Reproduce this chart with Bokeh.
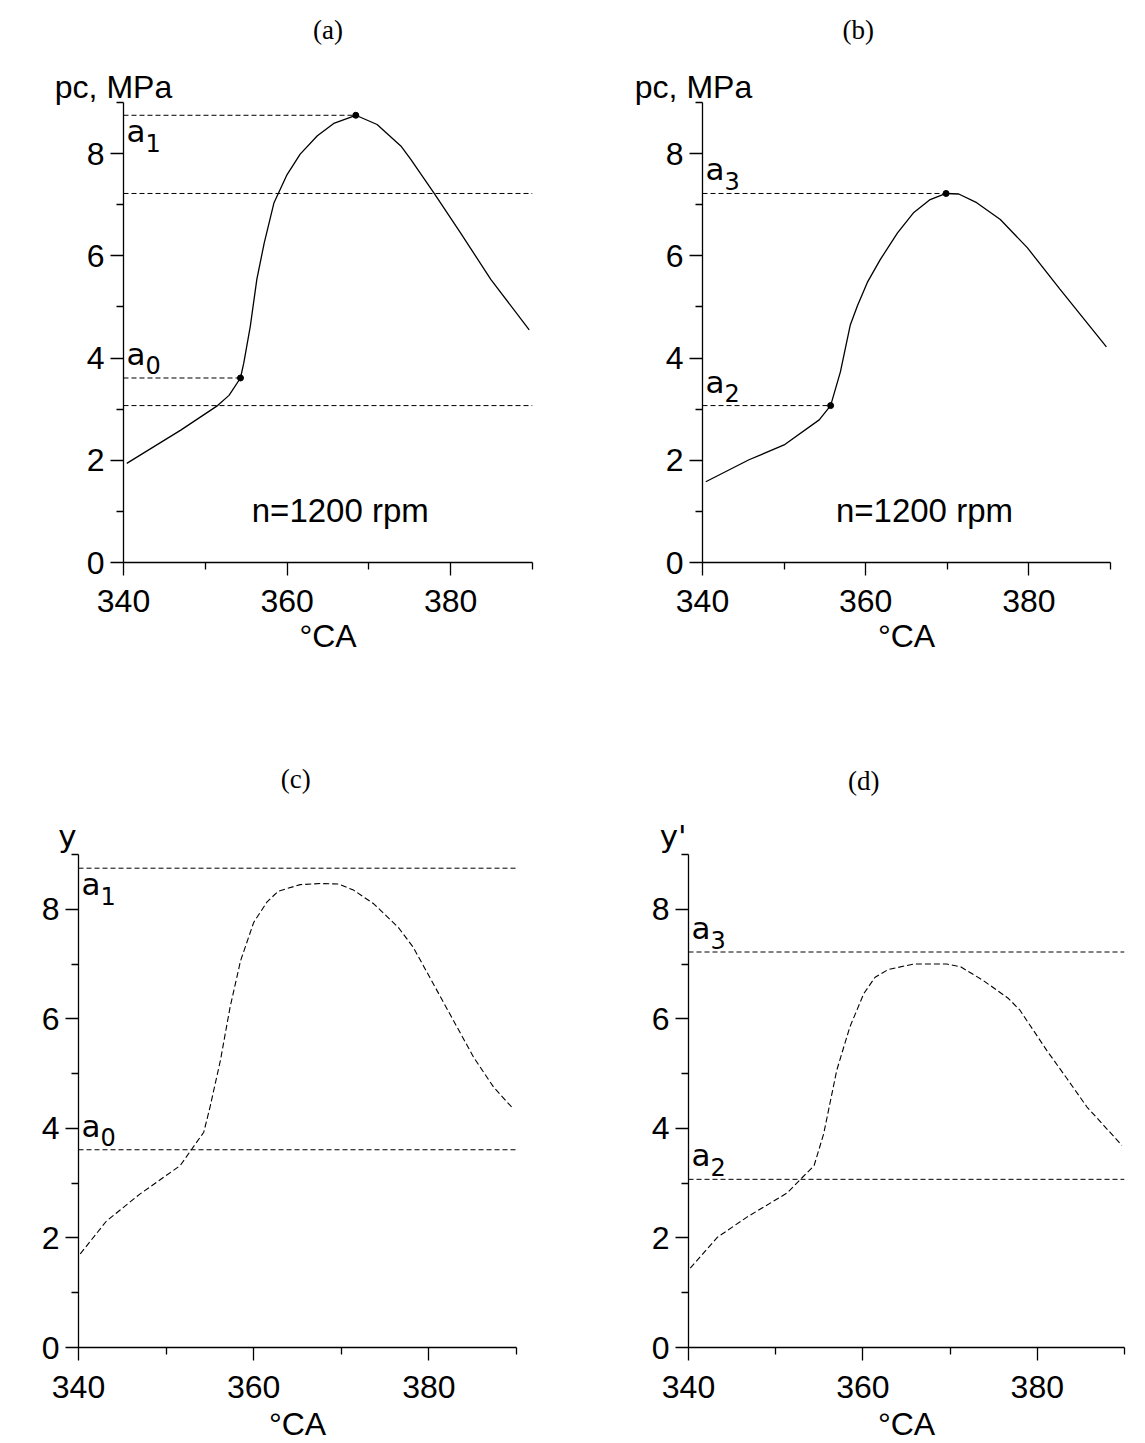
from bokeh.plotting import figure
from bokeh.models import Range1d, FixedTicker, Label
from bokeh.layouts import column, row
from bokeh.embed import file_html
from bokeh.resources import INLINE

# ---------------- data ----------------
x_ticks = [340, 360, 380]
x_minor = [350, 370, 390]
y_ticks = [0, 2, 4, 6, 8]
y_minor = [1, 3, 5, 7, 9]

a0, a1, a2, a3 = 3.61, 8.75, 3.07, 7.22

# (a) pc, MPa
ca_x = [340.4, 347.0, 351.5, 352.9, 354.3, 354.7, 355.5, 356.3, 357.2, 358.4, 360.0,
        361.6, 363.7, 365.7, 368.4, 371.0, 373.9, 375.1, 377.9, 381.2, 384.9, 389.6]
pa_y = [1.94, 2.59, 3.07, 3.27, 3.61, 3.90, 4.62, 5.54, 6.25, 7.04, 7.59,
        7.99, 8.35, 8.59, 8.75, 8.57, 8.15, 7.89, 7.24, 6.45, 5.54, 4.55]
a_points_x = [354.3, 368.4]
a_points_y = [a0, a1]

# (b) pc, MPa
cb_x = [340.4, 345.7, 350.0, 354.3, 355.7, 356.9, 358.1, 359.0, 360.2, 361.8, 363.9,
        365.9, 367.9, 369.85, 371.4, 373.6, 376.5, 379.8, 383.8, 389.5]
pb_y = [1.58, 2.01, 2.30, 2.79, 3.07, 3.73, 4.64, 5.03, 5.48, 5.93, 6.45,
        6.85, 7.10, 7.22, 7.21, 7.04, 6.71, 6.16, 5.35, 4.22]
b_points_x = [355.7, 369.85]
b_points_y = [a2, a3]

# (c) y
cc_x = [340.2, 343.2, 347.0, 351.6, 354.3, 355.0, 356.2, 357.3, 358.5, 360.0, 361.5, 362.8,
        365.3, 367.6, 369.7, 371.4, 373.7, 376.5, 378.2, 380.5, 382.8, 385.1, 387.4, 389.5]
yc_y = [1.71, 2.31, 2.80, 3.32, 3.93, 4.38, 5.24, 6.21, 7.06, 7.76, 8.13, 8.33,
        8.45, 8.47, 8.46, 8.35, 8.10, 7.67, 7.31, 6.64, 5.97, 5.30, 4.75, 4.38]

# (d) y'
cd_x = [340.2, 343.3, 346.7, 351.3, 354.4, 355.5, 357.0, 358.5, 360.1, 361.4, 362.9,
        365.8, 369.6, 371.2, 373.8, 376.7, 378.0, 381.1, 383.4, 385.7, 389.7]
yd_y = [1.45, 2.01, 2.38, 2.82, 3.32, 3.90, 5.06, 5.85, 6.46, 6.76, 6.90,
        7.00, 7.00, 6.95, 6.70, 6.37, 6.16, 5.42, 4.91, 4.39, 3.69]

X0, X1 = 340, 390
Y0, Y1 = 0, 9

SANS = "Liberation Sans"
SANS2 = "DejaVu Sans"
SERIF = "Liberation Serif"


def make_fig(fw, fh, bl, br, bt, bb, tick_standoff, lab_standoff):
    p = figure(frame_width=fw, frame_height=fh,
               x_range=Range1d(X0, X1), y_range=Range1d(Y0, Y1),
               output_backend="svg", toolbar_location=None,
               min_border_left=bl, min_border_right=br,
               min_border_top=bt, min_border_bottom=bb)
    p.outline_line_color = None
    p.grid.visible = False
    p.background_fill_color = "white"
    p.border_fill_color = "white"
    p.xaxis.ticker = FixedTicker(ticks=x_ticks, minor_ticks=x_minor)
    p.yaxis.ticker = FixedTicker(ticks=y_ticks, minor_ticks=y_minor)
    for ax in (p.xaxis[0], p.yaxis[0]):
        ax.axis_line_color = "black"
        ax.axis_line_width = 1.3
        ax.major_tick_line_color = "black"
        ax.major_tick_line_width = 1.3
        ax.major_tick_in = 0
        ax.major_tick_out = 13
        ax.minor_tick_line_color = "black"
        ax.minor_tick_line_width = 1.3
        ax.minor_tick_in = 0
        ax.minor_tick_out = 7
        ax.major_label_text_font = SANS
        ax.major_label_text_font_size = "32px"
        ax.major_label_text_color = "black"
    p.xaxis.major_label_standoff = tick_standoff
    p.yaxis.major_label_standoff = 6
    p.xaxis.axis_label = "°CA"
    p.xaxis.axis_label_text_font = SANS
    p.xaxis.axis_label_text_font_size = "32px"
    p.xaxis.axis_label_text_font_style = "normal"
    p.xaxis.axis_label_text_color = "black"
    p.xaxis.axis_label_standoff = lab_standoff
    return p


def add_text(p, x, y, text, font, size, xo=0, yo=0, align="left",
             baseline="alphabetic", place="center"):
    p.add_layout(Label(x=x, y=y, text=text, x_offset=xo, y_offset=yo,
                       text_font=font, text_font_size=size, text_color="black",
                       text_align=align, text_baseline=baseline), place)


def add_sub_label(p, level, base, sub, above):
    if above:
        add_text(p, X0, level, base, SANS2, "31px", xo=3, yo=24)
        add_text(p, X0, level, sub, SANS2, "24px", xo=22, yo=12.5)
    else:
        add_text(p, X0, level, base, SANS2, "31px", xo=3, yo=-16)
        add_text(p, X0, level, sub, SANS2, "24px", xo=22, yo=-28)


DASH_H = "5 3"
DASH_C = "6 3"

# ---------------- (a) ----------------
pa = make_fig(409, 460, 123, 40, 102, 138, 14, 3)
pa.line(ca_x, pa_y, line_color="black", line_width=1.3)
pa.line([X0, a_points_x[1]], [a1, a1], line_color="black", line_width=1, line_dash=DASH_H)
pa.line([X0, a_points_x[0]], [a0, a0], line_color="black", line_width=1, line_dash=DASH_H)
pa.line([X0, X1], [a3, a3], line_color="black", line_width=1, line_dash=DASH_H)
pa.line([X0, X1], [a2, a2], line_color="black", line_width=1, line_dash=DASH_H)
pa.scatter(a_points_x, a_points_y, size=6, color="black")
add_sub_label(pa, a1, "a", "1", above=False)
add_sub_label(pa, a0, "a", "0", above=True)
add_text(pa, X0, Y1, "pc, MPa", SANS, "32px", xo=-10, yo=16, align="center", place="above")
add_text(pa, 365, Y1, "(a)", SERIF, "27px", yo=73, align="center", baseline="middle", place="above")
add_text(pa, 366.5, 0.83, "n=1200 rpm", SANS, "33px", yo=10, align="center")

# ---------------- (b) ----------------
pb = make_fig(408, 460, 130, 35, 102, 138, 14, 3)
pb.line(cb_x, pb_y, line_color="black", line_width=1.3)
pb.line([X0, b_points_x[1]], [a3, a3], line_color="black", line_width=1, line_dash=DASH_H)
pb.line([X0, b_points_x[0]], [a2, a2], line_color="black", line_width=1, line_dash=DASH_H)
pb.scatter(b_points_x, b_points_y, size=6, color="black")
add_sub_label(pb, a3, "a", "3", above=True)
add_sub_label(pb, a2, "a", "2", above=True)
add_text(pb, X0, Y1, "pc, MPa", SANS, "32px", xo=-9, yo=16, align="center", place="above")
add_text(pb, 359.1, Y1, "(b)", SERIF, "27px", yo=73, align="center", baseline="middle", place="above")
add_text(pb, 367.2, 0.83, "n=1200 rpm", SANS, "33px", yo=10, align="center")

# ---------------- (c) ----------------
pc = make_fig(438, 493, 78, 56, 154, 95, 15, 5)
pc.line(cc_x, yc_y, line_color="black", line_width=1.1, line_dash=DASH_C)
pc.line([X0, X1], [a1, a1], line_color="black", line_width=1, line_dash=DASH_H)
pc.line([X0, X1], [a0, a0], line_color="black", line_width=1, line_dash=DASH_H)
add_sub_label(pc, a1, "a", "1", above=False)
add_sub_label(pc, a0, "a", "0", above=True)
add_text(pc, X0, Y1, "y", SANS2, "31px", xo=-2, yo=19, align="right", place="above")
add_text(pc, 364.8, Y1, "(c)", SERIF, "27px", yo=76, align="center", baseline="middle", place="above")

# ---------------- (d) ----------------
pd = make_fig(436, 493, 116, 21, 154, 95, 15, 5)
pd.line(cd_x, yd_y, line_color="black", line_width=1.1, line_dash=DASH_C)
pd.line([X0, X1], [a3, a3], line_color="black", line_width=1, line_dash=DASH_H)
pd.line([X0, X1], [a2, a2], line_color="black", line_width=1, line_dash=DASH_H)
add_sub_label(pd, a3, "a", "3", above=True)
add_sub_label(pd, a2, "a", "2", above=True)
add_text(pd, X0, Y1, "y'", SANS2, "31px", xo=-2, yo=19, align="right", place="above")
add_text(pd, 360.1, Y1, "(d)", SERIF, "27px", yo=74, align="center", baseline="middle", place="above")

layout = column(row(pa, pb), row(pc, pd))
open("out.html", "w").write(file_html(layout, INLINE))
